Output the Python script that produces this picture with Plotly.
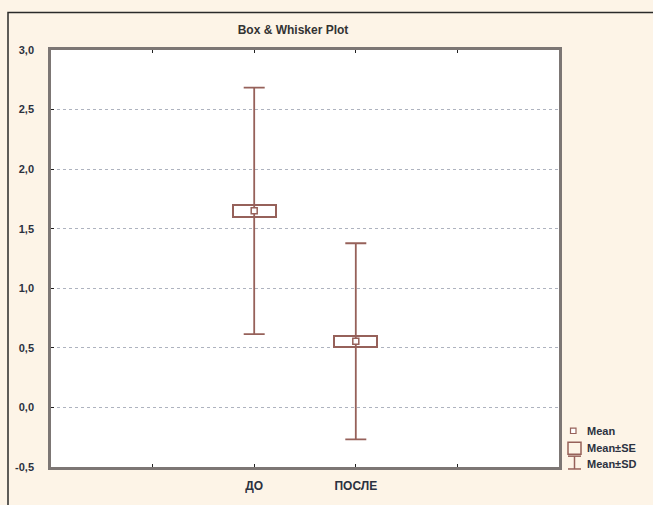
import plotly.graph_objects as go

# Summary statistics per group
categories = ["ДО", "ПОСЛЕ"]
means = [1.65, 0.555]
se = [0.05, 0.045]
sd = [1.035, 0.823]

y_ticks = [-0.5, 0.0, 0.5, 1.0, 1.5, 2.0, 2.5, 3.0]
y_tick_labels = ["-0,5", "0,0", "0,5", "1,0", "1,5", "2,0", "2,5", "3,0"]

W, H = 653, 505
L, R, T, B = 51, 559, 50, 473  # plot area in pixels

BROWN = "#96615a"
TXT = "#2b3140"
FONT = "Liberation Sans, Arial, sans-serif"

# categories sit in slots 2, 3 of a 5-slot axis (ticks at 1..4)
xpos = [i + 2 for i in range(len(categories))]


def px(x):
    return (x - L) / (R - L)


def py(y):
    return (B - y) / (B - T)


fig = go.Figure()

# Mean ± SE box
fig.add_trace(go.Bar(
    x=xpos,
    y=[2 * s for s in se],
    base=[m - s for m, s in zip(means, se)],
    width=0.42,
    marker=dict(color="rgba(0,0,0,0)", line=dict(color=BROWN, width=2)),
    showlegend=False,
    hoverinfo="skip",
))

# Mean ± SD whiskers and mean marker
fig.add_trace(go.Scatter(
    x=xpos,
    y=means,
    mode="markers",
    marker=dict(symbol="square", size=6, color="white",
                line=dict(color=BROWN, width=1.5)),
    error_y=dict(type="data", array=sd, symmetric=True,
                 color=BROWN, thickness=1.8, width=10.5),
    showlegend=False,
))

shapes = [
    # outer frame of the graph window
    dict(type="rect", xref="paper", yref="paper",
         x0=px(8), y0=py(560), x1=px(720), y1=py(12),
         line=dict(color="#2a2a2a", width=1.5), layer="below"),
    # legend icons
    dict(type="rect", xref="paper", yref="paper",
         x0=px(570.5), x1=px(576), y0=py(439), y1=py(433.5),
         line=dict(color=BROWN, width=1.2), fillcolor="white"),
    dict(type="rect", xref="paper", yref="paper",
         x0=px(568), x1=px(581), y0=py(460), y1=py(448),
         line=dict(color=BROWN, width=1.5)),
    dict(type="line", xref="paper", yref="paper",
         x0=px(574.5), x1=px(574.5), y0=py(475), y1=py(462),
         line=dict(color=BROWN, width=1.5)),
    dict(type="line", xref="paper", yref="paper",
         x0=px(568), x1=px(581), y0=py(462), y1=py(462),
         line=dict(color=BROWN, width=1.5)),
    dict(type="line", xref="paper", yref="paper",
         x0=px(568), x1=px(581), y0=py(475), y1=py(475),
         line=dict(color=BROWN, width=1.5)),
]

legend_labels = [("Mean", 436), ("Mean±SE", 454), ("Mean±SD", 470)]
annotations = [
    dict(text=t, xref="paper", yref="paper", x=px(585), y=py(yy),
         xanchor="left", yanchor="middle", showarrow=False,
         font=dict(family=FONT, size=11, color=TXT, weight="bold"))
    for t, yy in legend_labels
]

fig.update_layout(
    width=W, height=H,
    margin=dict(l=L, r=W - R, t=T, b=H - B),
    paper_bgcolor="#fdf4e7",
    plot_bgcolor="white",
    title=dict(text="Box & Whisker Plot", x=px(293), xref="paper",
               xanchor="center", y=1 - 30 / H, yref="container",
               yanchor="middle",
               font=dict(family=FONT, size=12, color="#333333", weight="bold")),
    shapes=shapes,
    annotations=annotations,
    bargap=0,
)

fig.update_xaxes(
    range=[0, 5],
    tickvals=[1, 2, 3, 4],
    ticktext=[""] + categories + [""],
    ticks="inside", ticklen=3, tickcolor="#222", tickwidth=1,
    showgrid=False, zeroline=False,
    showline=True, linecolor="#7c7674", linewidth=2.5, mirror="ticks",
    tickfont=dict(family=FONT, size=12, color=TXT, weight="bold"),
    ticklabelstandoff=6,
)

fig.update_yaxes(
    range=[-0.5, 3.0],
    tickvals=y_ticks,
    ticktext=y_tick_labels,
    ticks="inside", ticklen=3, tickcolor="#222", tickwidth=1,
    showgrid=True, gridcolor="#aeb3bf", griddash="dot", gridwidth=1,
    zeroline=False,
    showline=True, linecolor="#7c7674", linewidth=2.5, mirror=True,
    tickfont=dict(family=FONT, size=11, color=TXT, weight="bold"),
    ticklabelstandoff=12,
)

fig.write_html("out.html")
